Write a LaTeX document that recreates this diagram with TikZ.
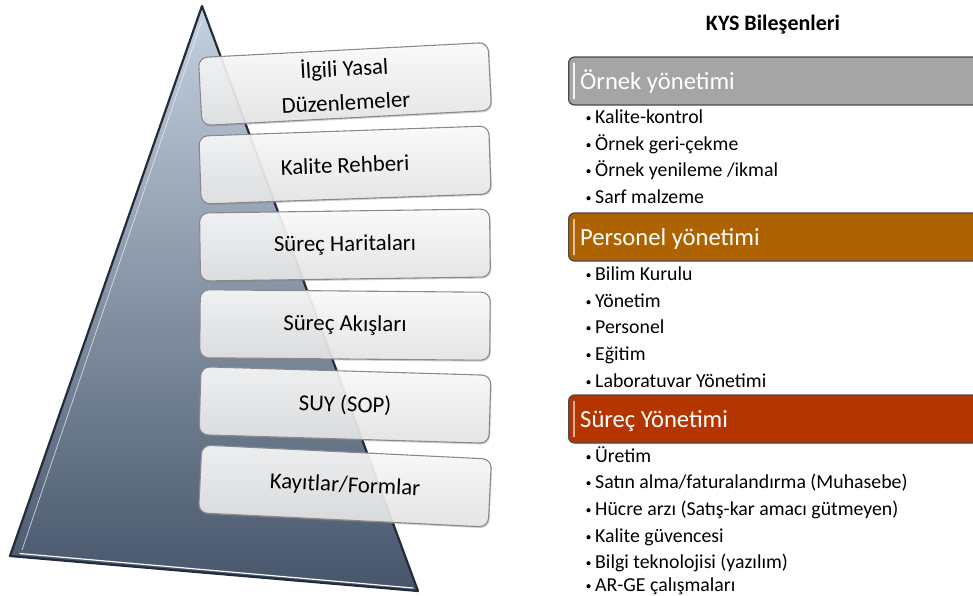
\documentclass[tikz,border=0pt]{standalone}
\usepackage{fontspec}
\setmainfont{Carlito}
\usetikzlibrary{shadows}
\definecolor{pyrtop}{HTML}{C4D1DF}
\definecolor{pyrmid}{HTML}{7F91A8}
\definecolor{pyrbot}{HTML}{46556A}
\definecolor{pyredge}{HTML}{222C3A}
\definecolor{boxedge}{HTML}{8A8A8A}
\definecolor{bargray}{HTML}{A5A5A5}
\definecolor{barorange}{HTML}{AF6200}
\definecolor{barred}{HTML}{B53500}
\definecolor{baredge}{HTML}{4A4A4A}
\begin{document}
\begin{tikzpicture}[x=1pt,y=-1pt,
  levelbox/.style={draw=boxedge, line width=1.1pt, rounded corners=9pt,
    minimum width=290pt, minimum height=68pt, top color=white, bottom color=black!9,
    fill opacity=0.88, text opacity=1, align=center,
    font=\fontsize{22.8}{34}\selectfont,
    drop shadow={shadow xshift=1pt, shadow yshift=-1.5pt, opacity=0.35}},
  headbar/.style={draw=baredge, line width=1.3pt, rounded corners=6pt,
    minimum width=412pt, minimum height=48pt, anchor=west},
  headtext/.style={anchor=base west, inner sep=0pt, text=white,
    font=\fontsize{24.6}{28}\selectfont},
  barshine/.style={line width=1.6pt, line cap=round},
  itemtext/.style={anchor=base west, inner sep=0pt, font=\fontsize{19.8}{23}\selectfont},
  bulletdot/.style={fill=black}
]
\useasboundingbox (0,0) rectangle (973,595);
\clip (0,0) rectangle (973,595);

% ---- pyramid ----
\coordinate (apex) at (202,6);
\coordinate (bl) at (10,556);
\coordinate (br) at (418,591);
\fill[top color=pyrtop, middle color=pyrmid, bottom color=pyrbot]
  (apex) -- (br) -- (bl) -- cycle;
\draw[pyredge, line width=2.2pt, line join=round] (apex) -- (br) -- (bl) -- cycle;
\draw[white!85!pyrtop, line width=1.2pt, line cap=round]
  ([xshift=10pt,yshift=2.5pt]bl) -- ([xshift=-5pt,yshift=3pt]br);
\draw[white!70!pyrtop, line width=0.8pt, opacity=0.7]
  ([xshift=0pt,yshift=-14pt]apex) -- ([xshift=12pt,yshift=6pt]bl);

% ---- level boxes ----
\node[levelbox, rotate=3]    (l1) at (345,84)  {İlgili Yasal\\Düzenlemeler};
\node[levelbox, rotate=2]    (l2) at (345,165) {Kalite Rehberi};
\node[levelbox, rotate=0.8]  (l3) at (345,245) {Süreç Haritaları};
\node[levelbox, rotate=-0.5] (l4) at (345,325) {Süreç Akışları};
\node[levelbox, rotate=-1.7] (l5) at (345,405) {SUY (SOP)};
\node[levelbox, rotate=-2.8] (l6) at (345,486) {Kayıtlar/Formlar};

% ---- components ----
\node[font=\bfseries\fontsize{22}{26}\selectfont] (title) at (773,25) {KYS Bileşenleri};

\node[headbar, fill=bargray]   (h1) at (568,81)  {};
\node[headbar, fill=barorange] (h2) at (568,237) {};
\node[headbar, fill=barred]    (h3) at (568,419) {};
\node[headtext] (t1) at (580,89)  {Örnek yönetimi};
\node[headtext] (t2) at (580,245) {Personel yönetimi};
\node[headtext] (t3) at (580,427) {Süreç Yönetimi};
\draw[barshine, white!90!gray]
  ([xshift=6pt,yshift=-7pt]h1.north west) -- ([xshift=6pt,yshift=7pt]h1.south west);
\draw[barshine, white!60!barorange]
  ([xshift=6pt,yshift=-7pt]h2.north west) -- ([xshift=6pt,yshift=7pt]h2.south west);
\draw[barshine, white!60!barred]
  ([xshift=6pt,yshift=-7pt]h3.north west) -- ([xshift=6pt,yshift=7pt]h3.south west);

\foreach \y/\t [count=\k] in {
  123/{Kalite-kontrol}, 150/{Örnek geri-çekme}, 176/{Örnek yenileme /ikmal}, 203/{Sarf malzeme},
  280/{Bilim Kurulu}, 307/{Yönetim}, 333/{Personel}, 360/{Eğitim}, 387/{Laboratuvar Yönetimi},
  462/{Üretim}, 488/{Satın alma/faturalandırma (Muhasebe)},
  515/{Hücre arzı (Satış-kar amacı gütmeyen)}, 542/{Kalite güvencesi},
  568/{Bilgi teknolojisi (yazılım)}, 591/{AR-GE çalışmaları}} {
  \node[itemtext] (i\k) at (595,\y) {\t};
  \fill[bulletdot] (588.5,\y-4.8) circle (2.1pt);
}
\end{tikzpicture}
\end{document}
